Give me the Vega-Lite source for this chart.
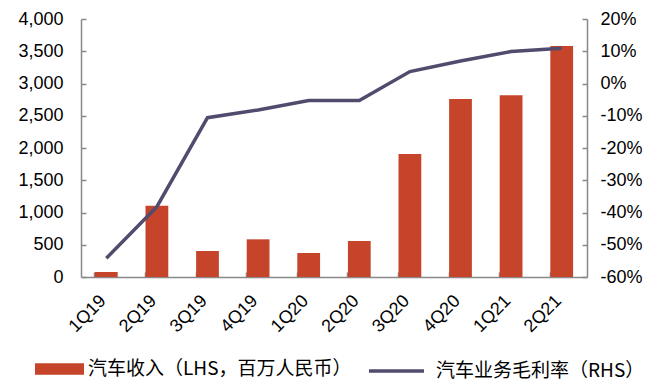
{
  "$schema": "https://vega.github.io/schema/vega-lite/v6.json",
  "width": 506,
  "height": 258,
  "autosize": "none",
  "padding": {"left": 81, "top": 19, "right": 64, "bottom": 103},
  "background": "white",
  "config": {
    "view": {"stroke": null},
    "font": "Liberation Sans",
    "axis": {"domainColor": "#898989", "tickColor": "#898989", "domainWidth": 1.5, "tickWidth": 1.5, "labelColor": "#000000", "grid": false, "labelFont": "Liberation Sans"}
  },
  "data": {
    "values": [
      {"q": "1Q19", "rev": 78, "gm": -0.542},
      {"q": "2Q19", "rev": 1105, "gm": -0.382},
      {"q": "3Q19", "rev": 403, "gm": -0.106},
      {"q": "4Q19", "rev": 584, "gm": -0.082},
      {"q": "1Q20", "rev": 372, "gm": -0.053},
      {"q": "2Q20", "rev": 558, "gm": -0.053},
      {"q": "3Q20", "rev": 1907, "gm": 0.037},
      {"q": "4Q20", "rev": 2760, "gm": 0.07},
      {"q": "1Q21", "rev": 2817, "gm": 0.099},
      {"q": "2Q21", "rev": 3581, "gm": 0.109}
    ]
  },
  "encoding": {
    "x": {
      "field": "q", "type": "nominal", "sort": null, "title": null,
      "scale": {"paddingInner": 0.55, "paddingOuter": 0.275},
      "axis": {"bandPosition": 0, "labelAngle": -45, "labelAlign": "right", "labelBaseline": "middle", "labelFontSize": 18, "labelOffset": -3, "labelPadding": 26, "tickSize": -5}
    }
  },
  "layer": [
    {
      "mark": {"type": "bar"},
      "encoding": {
        "y": {"field": "rev", "type": "quantitative", "title": null,
          "scale": {"domain": [0, 4000], "nice": false},
          "axis": {"values": [0, 500, 1000, 1500, 2000, 2500, 3000, 3500, 4000], "format": ",d", "labelFontSize": 18, "tickSize": -5, "labelPadding": 23, "orient": "left"}},
        "fill": {"datum": "汽车收入（LHS，百万人民币）", "type": "nominal",
          "scale": {"range": ["#C5442A"]},
          "legend": {"orient": "none", "legendX": -46, "legendY": 325.5, "title": null, "symbolType": "M-1,-0.236H1V0.236H-1Z", "symbolSize": 2401, "symbolStrokeWidth": 0, "labelFont": "Noto Sans CJK SC", "labelFontSize": 19, "labelColor": "#000000", "labelOffset": 4, "labelLimit": 500, "padding": 0}}
      }
    },
    {
      "mark": {"type": "line", "strokeWidth": 3.5},
      "encoding": {
        "y": {"field": "gm", "type": "quantitative", "title": null,
          "scale": {"domain": [-0.6, 0.2], "nice": false},
          "axis": {"values": [-0.6, -0.5, -0.4, -0.3, -0.2, -0.1, 0, 0.1, 0.2], "labelExpr": "replace(format(datum.value, '.0%'), '−', '-')", "labelFontSize": 18, "tickSize": -5, "labelPadding": 18, "orient": "right"}},
        "stroke": {"datum": "汽车业务毛利率（RHS）", "type": "nominal",
          "scale": {"range": ["#514B6E"]},
          "legend": {"orient": "none", "legendX": 286, "legendY": 322.5, "title": null, "symbolType": "stroke", "symbolSize": 3025, "symbolStrokeWidth": 3.5, "labelFont": "Noto Sans CJK SC", "labelFontSize": 19, "labelColor": "#000000", "labelOffset": 10, "labelLimit": 500, "padding": 0}}
      }
    }
  ],
  "resolve": {"scale": {"y": "independent"}}
}
